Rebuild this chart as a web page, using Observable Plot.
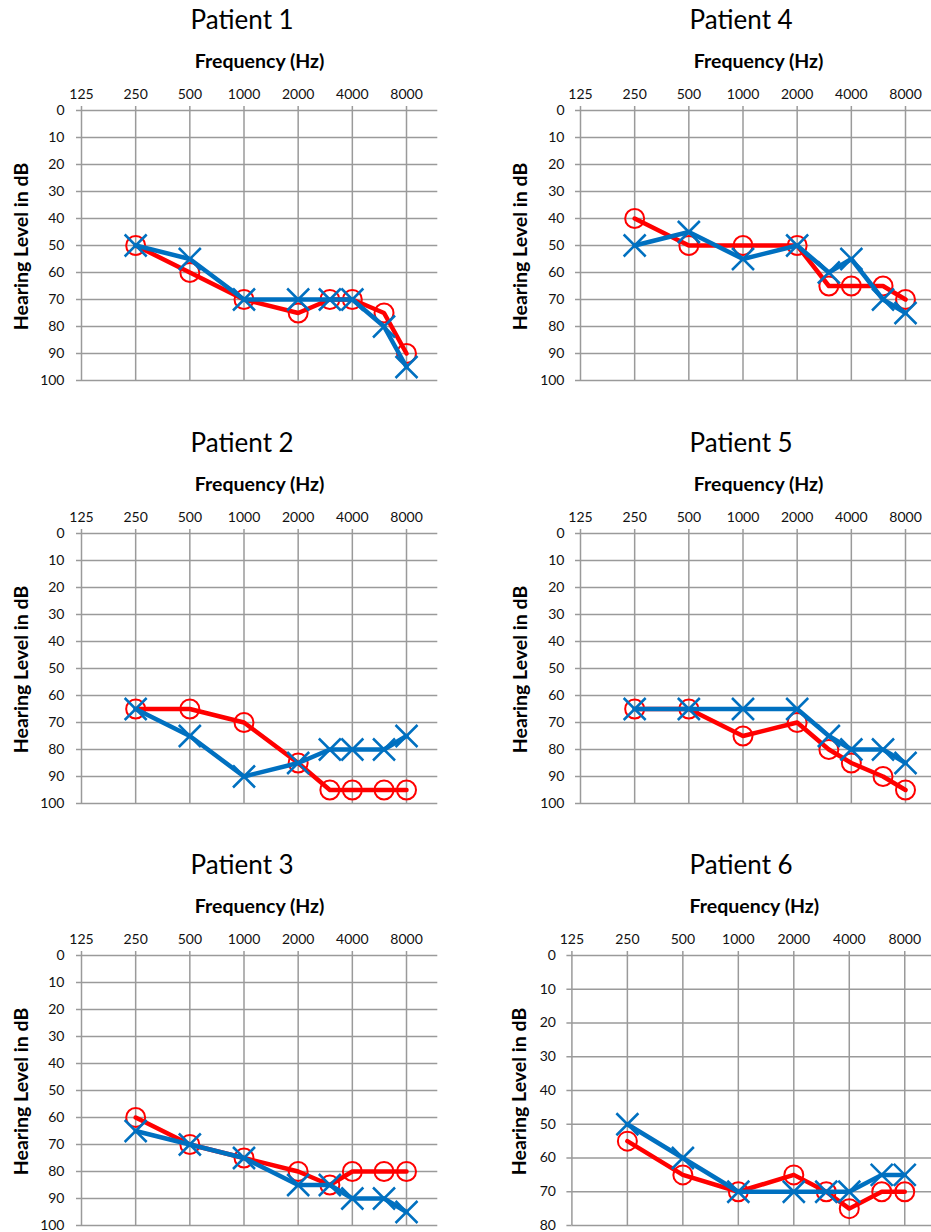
<!DOCTYPE html>
<html><head><meta charset="utf-8">
<script src="https://cdn.jsdelivr.net/npm/d3@7"></script>
<script src="https://cdn.jsdelivr.net/npm/@observablehq/plot@0.6"></script>
<style>
html,body{margin:0;padding:0;background:#fff;overflow:hidden;}
#root{position:relative;width:931px;height:1232px;overflow:hidden;background:#fff;}
.panel{position:absolute;width:466px;height:410px;}
.panel svg{max-width:none !important;}
</style></head><body><div id="root"></div>
<script>
// ---- data ----
const freqs = [250, 500, 1000, 2000, 3000, 4000, 6000, 8000];
const freqTicks = [125, 250, 500, 1000, 2000, 4000, 8000];
const dbTicks100 = [0, 10, 20, 30, 40, 50, 60, 70, 80, 90, 100];
const dbTicks80 = [0, 10, 20, 30, 40, 50, 60, 70, 80];
const titles = ["Patient 1", "Patient 2", "Patient 3", "Patient 4", "Patient 5", "Patient 6"];
const xLabel = "Frequency (Hz)";
const yLabel = "Hearing Level in dB";

const p1Red  = [50, 60, 70, 75, 70, 70, 75, 90];
const p1Blue = [50, 55, 70, 70, 70, 70, 80, 95];
const p2Red  = [65, 65, 70, 85, 95, 95, 95, 95];
const p2Blue = [65, 75, 90, 85, 80, 80, 80, 75];
const p3Red  = [60, 70, 75, 80, 85, 80, 80, 80];
const p3Blue = [65, 70, 75, 85, 85, 90, 90, 95];
const p4Red  = [40, 50, 50, 50, 65, 65, 65, 70];
const p4Blue = [50, 45, 55, 50, 60, 55, 70, 75];
const p5Red  = [65, 65, 75, 70, 80, 85, 90, 95];
const p5Blue = [65, 65, 65, 65, 75, 80, 80, 85];
const p6Red  = [55, 65, 70, 65, 70, 75, 70, 70];
const p6Blue = [50, 60, 70, 70, 70, 70, 65, 65];

const series = [
  {red: p1Red, blue: p1Blue, ticks: dbTicks100},
  {red: p2Red, blue: p2Blue, ticks: dbTicks100},
  {red: p3Red, blue: p3Blue, ticks: dbTicks100},
  {red: p4Red, blue: p4Blue, ticks: dbTicks100},
  {red: p5Red, blue: p5Blue, ticks: dbTicks100},
  {red: p6Red, blue: p6Blue, ticks: dbTicks80}
];

// ---- layout (positions/styles) ----
const layout = [
  {left: 0,     top: 0,     ml: 81,   yPad: 12, titleDx: -17.5, yLabDx: -60},
  {left: 0,     top: 422.5, ml: 81,   yPad: 12, titleDx: -17.5, yLabDx: -60},
  {left: 0,     top: 845,   ml: 81,   yPad: 12, titleDx: -17.5, yLabDx: -60},
  {left: 499.3, top: 0,     ml: 81,   yPad: 11, titleDx: -17.5, yLabDx: -60},
  {left: 499.3, top: 422.5, ml: 81,   yPad: 11, titleDx: -17.5, yLabDx: -60},
  {left: 499.3, top: 845,   ml: 72.4, yPad: 11, titleDx: -13.2, yLabDx: -51.7}
];
const RED = "#ff0000", BLUE = "#0070c0", GRID = "#9a9a9a";
const FONT = "Lato, 'Open Sans', sans-serif";

const timesSymbol = {
  draw(ctx, size) {
    const r = Math.sqrt(size / Math.PI);
    ctx.moveTo(-r, -r); ctx.lineTo(r, r);
    ctx.moveTo(-r, r); ctx.lineTo(r, -r);
  }
};

const W = 466, H = 410;
const root = document.getElementById("root");

series.forEach((s, k) => {
  const L = layout[k];
  const rows = freqs.map((f, i) => ({f, red: s.red[i], blue: s.blue[i]}));
  const yMax = s.ticks[s.ticks.length - 1];
  const chart = Plot.plot({
    width: W, height: H,
    marginTop: 110, marginBottom: H - 380, marginLeft: L.ml, marginRight: W - 437.3,
    style: {fontFamily: FONT, fontSize: "14px", color: "#000", background: "none", overflow: "visible"},
    x: {type: "log", base: 2, domain: [125, 11940]},
    y: {domain: [0, yMax], reverse: true},
    marks: [
      Plot.gridX(freqTicks, {stroke: GRID, strokeOpacity: 1, strokeWidth: 1.5}),
      Plot.gridY(s.ticks, {stroke: GRID, strokeOpacity: 1, strokeWidth: 1.5}),
      Plot.axisX(freqTicks, {anchor: "top", tickSize: 5, tickPadding: 7, stroke: GRID, strokeWidth: 1.5,
        tickFormat: d => String(d), label: null, fontSize: 14, fill: "#111"}),
      Plot.axisY(s.ticks, {anchor: "left", tickSize: 5, tickPadding: L.yPad, stroke: GRID, strokeWidth: 1.5,
        tickFormat: d => String(d), label: null, fontSize: 14, fill: "#111"}),
      Plot.line(rows, {x: "f", y: "red", stroke: RED, strokeWidth: 4.5}),
      Plot.dot(rows, {x: "f", y: "red", r: 9.5, stroke: RED, strokeWidth: 2, fill: "none"}),
      Plot.line(rows, {x: "f", y: "blue", stroke: BLUE, strokeWidth: 4.5}),
      Plot.dot(rows, {x: "f", y: "blue", r: 11, symbol: timesSymbol, stroke: BLUE, strokeWidth: 2.5, fill: "none"}),
      Plot.text([titles[k]], {text: d => d, frameAnchor: "top", textAnchor: "middle", lineAnchor: "middle",
        dx: L.titleDx, dy: -90, fontSize: 26, fill: "#000"}),
      Plot.text([xLabel], {text: d => d, frameAnchor: "top", textAnchor: "middle", lineAnchor: "middle",
        dy: -48.5, fontSize: 19.5, fontWeight: "bold", fill: "#000"}),
      Plot.text([yLabel], {text: d => d, frameAnchor: "left", textAnchor: "middle", lineAnchor: "middle",
        rotate: -90, dx: L.yLabDx, dy: 1, fontSize: 19.5, fontWeight: "bold", fill: "#000"})
    ]
  });
  const div = document.createElement("div");
  div.className = "panel";
  div.style.left = L.left + "px";
  div.style.top = L.top + "px";
  div.appendChild(chart);
  root.appendChild(div);
});
</script>
</body></html>
